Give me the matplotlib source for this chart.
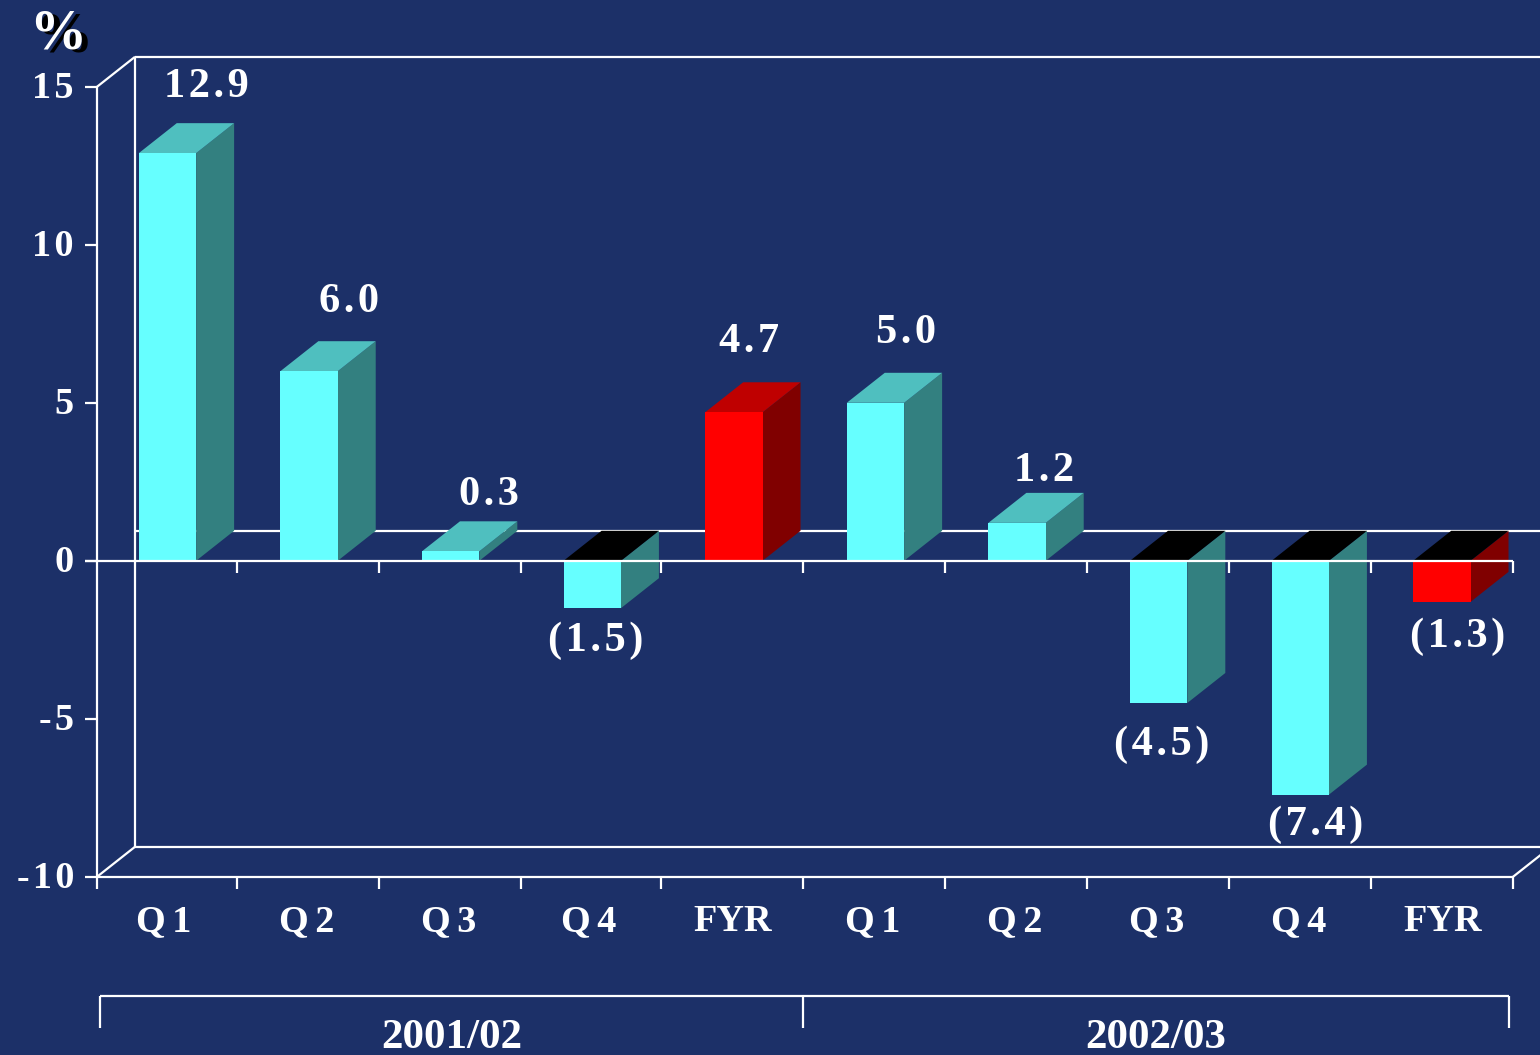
import matplotlib
matplotlib.use('Agg')
import matplotlib.pyplot as plt

categories = ['Q\u200a\u200a1', 'Q\u200a\u200a2', 'Q\u200a\u200a3', 'Q\u200a\u200a4', 'FYR',
              'Q\u200a\u200a1', 'Q\u200a\u200a2', 'Q\u200a\u200a3', 'Q\u200a\u200a4', 'FYR']
values = [12.9, 6.0, 0.3, -1.5, 4.7, 5.0, 1.2, -4.5, -7.4, -1.3]
value_labels = ['12.9', '6.0', '0.3', '(1.5)', '4.7', '5.0', '1.2', '(4.5)', '(7.4)', '(1.3)']
y_ticks = [15, 10, 5, 0, -5, -10]
groups = ['2001/02', '2002/03']

BG = '#1C3068'
FONT = ['Liberation Serif', 'DejaVu Serif']
CYAN = ('#66FFFF', '#338080', '#4FBFBF')
RED = ('#FF0000', '#800000', '#BF0000')

# pixel scale of the reference: category = 141.6 px, one percent = 31.6 px
X0, Y0, XS, YS = 97, 560.8, 141.6, 31.6
DX, DY = 38 / XS, 30 / YS
BAR_DX = 38 / XS


def px(x, y):
    return (x - X0) / XS, (Y0 - y) / YS


def spaced(s):
    return '\u200a'.join(s)


fig = plt.figure(figsize=(15.4, 10.55), dpi=100, facecolor=BG)
ax = fig.add_axes([0, 0, 1, 1])
ax.set_xlim(px(0, 0)[0], px(1540, 0)[0])
ax.set_ylim(px(0, 1055)[1], px(0, 0)[1])
ax.axis('off')

line = dict(color='white', linewidth=1.6, solid_capstyle='butt', solid_joinstyle='miter')
n = len(values)
right = px(1545, 0)[0]

# back wall
ax.plot([DX, DX], [-10 + DY, 15 + DY], zorder=1, **line)
ax.plot([DX, right], [15 + DY, 15 + DY], zorder=1, **line)
ax.plot([DX, right], [-10 + DY, -10 + DY], zorder=1, **line)
ax.plot([DX, right], [DY, DY], zorder=1, **line)
ax.plot([0, DX], [15, 15 + DY], zorder=1, **line)
ax.plot([0, DX], [-10, -10 + DY], zorder=1, **line)
ax.plot([n, n + DX], [-10, -10 + DY], zorder=1, **line)

# bars
bar_w = 0.405
for i, v in enumerate(values):
    front, side, top = RED if categories[i] == 'FYR' else CYAN
    x0 = i + 0.295
    x1 = x0 + bar_w
    ax.bar(x0, v, width=bar_w, align='edge', color=front, linewidth=0, zorder=3)
    ax.fill([x1, x1 + BAR_DX, x1 + BAR_DX, x1], [0, DY, v + DY, v], color=side, linewidth=0, zorder=2)
    ty = max(v, 0)
    ax.fill([x0, x0 + BAR_DX, x1 + BAR_DX, x1], [ty, ty + DY, ty + DY, ty],
            color=top if v > 0 else 'black', linewidth=0, zorder=2)

# front axes
ax.plot([0, 0], [-10, 15], zorder=4, **line)
ax.plot([px(85, 0)[0], n], [0, 0], zorder=4, **line)
ax.plot([0, n], [-10, -10], zorder=4, **line)
tick_len = 12 / YS
tick_px = [237, 379, 521, 661, 803, 945, 1087, 1229, 1371, 1513]
for tx in tick_px:
    ax.plot([px(tx, 0)[0]] * 2, [0, -tick_len], zorder=4, **line)
for tx in [X0] + tick_px:
    ax.plot([px(tx, 0)[0]] * 2, [-10, -10 - tick_len], zorder=4, **line)
for t in y_ticks:
    ax.plot([px(85, 0)[0], 0], [t, t], zorder=4, **line)

txt = dict(color='white', family=FONT, fontweight='bold', ha='center', va='baseline', zorder=6)

# y tick labels
for t in y_ticks:
    s = str(t) if t >= 0 else '-' + str(-t)
    ax.text(px(74, 0)[0], t - 11 / YS, spaced(s), fontsize=27.5,
            **{**txt, 'ha': 'right'})

# value labels
label_x = [206, 349, 489, 596, 749, 906, 1044, 1162, 1316, 1458]
label_y = [97, 312, 505, 651, 352, 343, 481, 755, 835, 647]
for s, lx, ly in zip(value_labels, label_x, label_y):
    ax.text(*px(lx, ly), spaced(s), fontsize=30.5, **txt)

# category labels
cat_x = [164, 307, 449, 589, 733, 873, 1015, 1157, 1299, 1443]
for s, cx in zip(categories, cat_x):
    ax.text(*px(cx, 931), s, fontsize=27.5, **txt)

# year brackets
b0, bm, b1 = px(100, 0)[0], px(803, 0)[0], px(1509, 0)[0]
by, byl = px(0, 996)[1], px(0, 1028)[1]
ax.plot([b0, b1], [by, by], zorder=4, **line)
for bx in (b0, bm, b1):
    ax.plot([bx, bx], [by, byl], zorder=4, **line)
for s, gx in zip(groups, (452, 1156)):
    ax.text(*px(gx, 1048), s, fontsize=31, **txt)

# percent sign with drop shadow
ax.text(*px(64, 52), '%', fontsize=41, **{**txt, 'color': 'black', 'zorder': 5})
ax.text(*px(58, 48), '%', fontsize=41, **txt)

fig.savefig('out.png', dpi=100, facecolor=BG)
